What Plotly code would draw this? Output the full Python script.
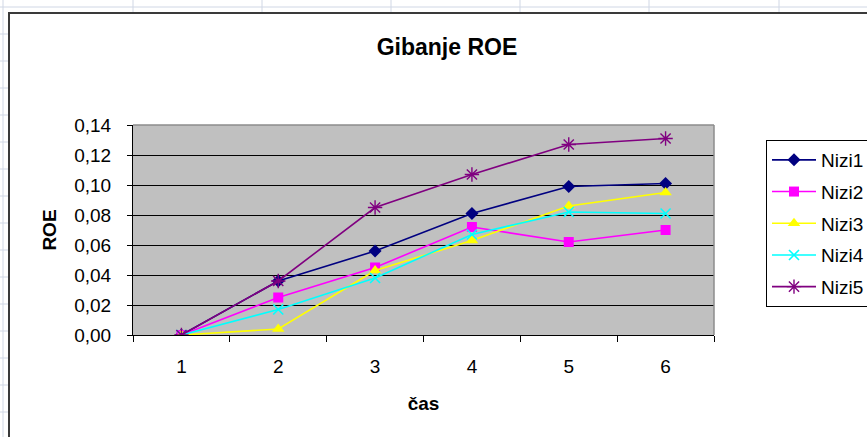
import plotly.graph_objects as go

# ROE over time for five series
categories = ["1", "2", "3", "4", "5", "6"]
series_names = ["Nizi1", "Nizi2", "Nizi3", "Nizi4", "Nizi5"]
nizi1 = [0.000, 0.036, 0.056, 0.081, 0.099, 0.101]
nizi2 = [0.000, 0.025, 0.045, 0.072, 0.062, 0.070]
nizi3 = [0.000, 0.004, 0.043, 0.063, 0.086, 0.095]
nizi4 = [0.000, 0.017, 0.038, 0.067, 0.082, 0.081]
nizi5 = [0.000, 0.036, 0.085, 0.107, 0.127, 0.131]
y_ticks = [0.00, 0.02, 0.04, 0.06, 0.08, 0.10, 0.12, 0.14]

W, H = 867, 437
L, R, T, B = 133, 153, 125, 102
PW, PH = W - L - R, H - T - B


def fx(px):
    return (px - L) / PW


def fy(py):
    return (H - B - py) / PH


FONT = "Liberation Sans, Arial, sans-serif"

styles = [
    dict(color="#000080", symbol="diamond", size=10, lw=0),
    dict(color="#FF00FF", symbol="square", size=10, lw=0),
    dict(color="#FFFF00", symbol="triangle-up", size=11, lw=0),
    dict(color="#00FFFF", symbol="x-thin-open", size=10, lw=1.6),
    dict(color="#800080", symbol="asterisk-open", size=12, lw=1.4),
]

fig = go.Figure()
for name, vals, st in zip(series_names, [nizi1, nizi2, nizi3, nizi4, nizi5], styles):
    fig.add_trace(go.Scatter(
        x=categories, y=vals, name=name, mode="lines+markers",
        legendgroup=name,
        line=dict(color=st["color"], width=1.6),
        marker=dict(symbol=st["symbol"], size=st["size"], color=st["color"],
                    line=dict(color=st["color"], width=st["lw"])),
    ))

shapes = []
grid_col = "#D0D7E5"
# worksheet cell grid around the chart object
shapes.append(dict(type="line", xref="paper", yref="paper",
                   x0=fx(0), x1=fx(W), y0=fy(7), y1=fy(7),
                   line=dict(color=grid_col, width=1), layer="below"))
for cx in [133, 262, 391, 520, 649, 779]:
    shapes.append(dict(type="line", xref="paper", yref="paper",
                       x0=fx(cx), x1=fx(cx), y0=fy(0), y1=fy(12),
                       line=dict(color=grid_col, width=1), layer="below"))
shapes.append(dict(type="line", xref="paper", yref="paper",
                   x0=fx(3), x1=fx(3), y0=fy(0), y1=fy(H),
                   line=dict(color=grid_col, width=1), layer="below"))
for k in range(1, 16):
    ry = 7 + 27 * k
    shapes.append(dict(type="line", xref="paper", yref="paper",
                       x0=fx(0), x1=fx(8), y0=fy(ry), y1=fy(ry),
                       line=dict(color=grid_col, width=1), layer="below"))
# chart area frame
shapes.append(dict(type="rect", xref="paper", yref="paper",
                   x0=fx(9), x1=fx(W + 20), y0=fy(13), y1=fy(H + 20),
                   line=dict(color="#3A3A3A", width=2), layer="below"))
# plot area border (top and right)
shapes.append(dict(type="line", xref="paper", yref="paper",
                   x0=0, x1=1, y0=1, y1=1, line=dict(color="#8C8C8C", width=1.5)))
shapes.append(dict(type="line", xref="paper", yref="paper",
                   x0=1, x1=1, y0=0, y1=1, line=dict(color="#8C8C8C", width=1.5)))

fig.update_layout(
    width=W, height=H,
    margin=dict(l=L, r=R, t=T, b=B, pad=0, autoexpand=False),
    paper_bgcolor="white",
    plot_bgcolor="#C0C0C0",
    separators=",.",
    font=dict(family=FONT, size=19, color="black"),
    title=dict(text="<b>Gibanje ROE</b>", font=dict(family=FONT, size=23, color="black"),
               xref="paper", x=fx(447), xanchor="center",
               yref="container", y=1 - 47 / H, yanchor="middle"),
    showlegend=True,
    legend=dict(xref="container", yref="container",
                x=766 / W, y=1 - 140 / H, xanchor="left", yanchor="top",
                bgcolor="white", bordercolor="black", borderwidth=1,
                font=dict(family=FONT, size=19, color="black"),
                tracegroupgap=4, itemwidth=44),
    shapes=shapes,
)

fig.update_xaxes(
    type="category", tickson="boundaries", range=[-0.5, len(categories) - 0.5],
    ticks="outside", ticklen=6, tickwidth=1, tickcolor="black",
    showline=True, linecolor="black", linewidth=1,
    showgrid=False, zeroline=False, automargin=False,
    ticklabelstandoff=14,
    title=dict(text="<b>čas</b>", font=dict(family=FONT, size=19), standoff=20),
)
fig.update_yaxes(
    range=[0, 0.14], tickvals=y_ticks, tickformat=".2f",
    ticks="outside", ticklen=5, tickwidth=1, tickcolor="black",
    showline=True, linecolor="black", linewidth=1,
    showgrid=True, gridcolor="black", gridwidth=1,
    zeroline=False, automargin=False,
    ticklabelstandoff=12,
    title=dict(text="<b>ROE</b>", font=dict(family=FONT, size=19), standoff=12),
)

fig.write_html("out.html")
